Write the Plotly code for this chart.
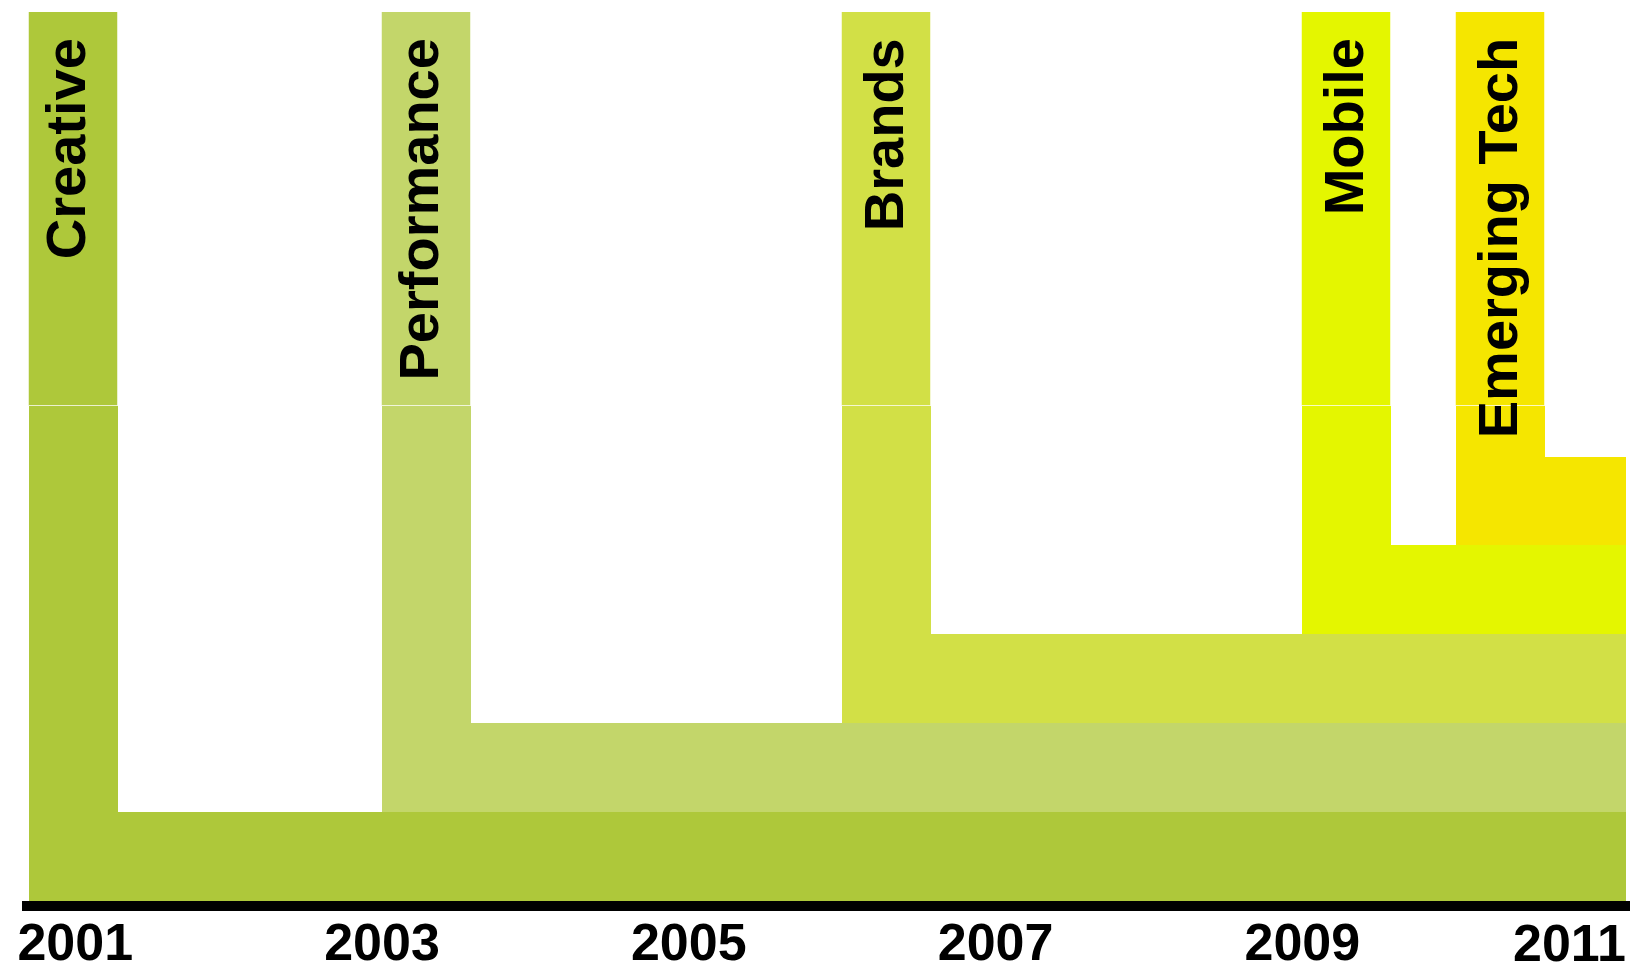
import plotly.graph_objects as go

# ---- data ----
categories = ["Creative", "Performance", "Brands", "Mobile", "Emerging Tech"]
start_years = [2000.70, 2003.0, 2006.0, 2009.0, 2010.0]
end_year = 2011.11
tick_years = [2001, 2003, 2005, 2007, 2009, 2011]
tick_labels = ["2001", "2003", "2005", "2007", "2009", "2011"]

# ---- styling ----
colors = ["#AEC83A", "#C3D66A", "#D2E046", "#E4F600", "#F5E600"]
label_dx = [-8, -8, -3, -3, -3]   # pixel nudges of the rotated labels
COL_W = 0.58          # column width in years
TOP = 10.0            # top of columns (band units)
SPLIT = 5.57          # faint seam across columns
FONT = "Liberation Sans, Arial, Helvetica, sans-serif"

fig = go.Figure()

for i, (name, s, c) in enumerate(zip(categories, start_years, colors)):
    # horizontal band from start to end
    fig.add_trace(go.Bar(
        orientation="h", y=[i + 0.5], x=[end_year - s], base=[s], width=1,
        marker=dict(color=c, line=dict(width=0)), hoverinfo="skip", showlegend=False))
    # vertical column: lower part
    fig.add_trace(go.Bar(
        x=[s + COL_W / 2], y=[SPLIT - i], base=[i], width=COL_W,
        marker=dict(color=c, line=dict(width=0)), hoverinfo="skip", showlegend=False))
    # vertical column: upper part
    fig.add_trace(go.Bar(
        x=[s + COL_W / 2], y=[TOP - SPLIT], base=[SPLIT], width=COL_W,
        marker=dict(color=c, line=dict(width=1, color="rgba(255,255,255,0.5)")),
        hoverinfo="skip", showlegend=False))
    fig.add_annotation(
        x=s + COL_W / 2, y=TOP, xref="x", yref="y", text=name, showarrow=False,
        textangle=-90, yanchor="top", xanchor="center", yshift=-24, xshift=label_dx[i],
        font=dict(family=FONT, size=56, color="black", weight="bold"))

# last tick label kept inside the figure
fig.add_annotation(
    x=1, y=0, xref="paper", yref="paper", text=tick_labels[-1], showarrow=False,
    xanchor="right", yanchor="middle", yshift=-42, xshift=-2,
    font=dict(family=FONT, size=52, color="black", weight="bold"))

fig.update_layout(
    width=1630, height=972,
    margin=dict(l=22, r=0, t=12, b=71),
    paper_bgcolor="white", plot_bgcolor="white",
    barmode="overlay", bargap=0,
    xaxis=dict(range=[2000.653, 2011.136], tickvals=tick_years[:-1], ticktext=tick_labels[:-1],
               showgrid=False, zeroline=False, showline=True, linecolor="black", linewidth=10,
               ticks="", ticklabelstandoff=-13, automargin=False,
               tickfont=dict(family=FONT, size=52, color="black", weight="bold")),
    yaxis=dict(range=[0, TOP], visible=False, showgrid=False, zeroline=False, automargin=False),
)

fig.write_html(
    "out.html",
    config={"displayModeBar": False},
    post_script="document.body.style.margin='0';document.body.style.overflow='hidden';"
                "document.documentElement.style.overflow='hidden';",
)
